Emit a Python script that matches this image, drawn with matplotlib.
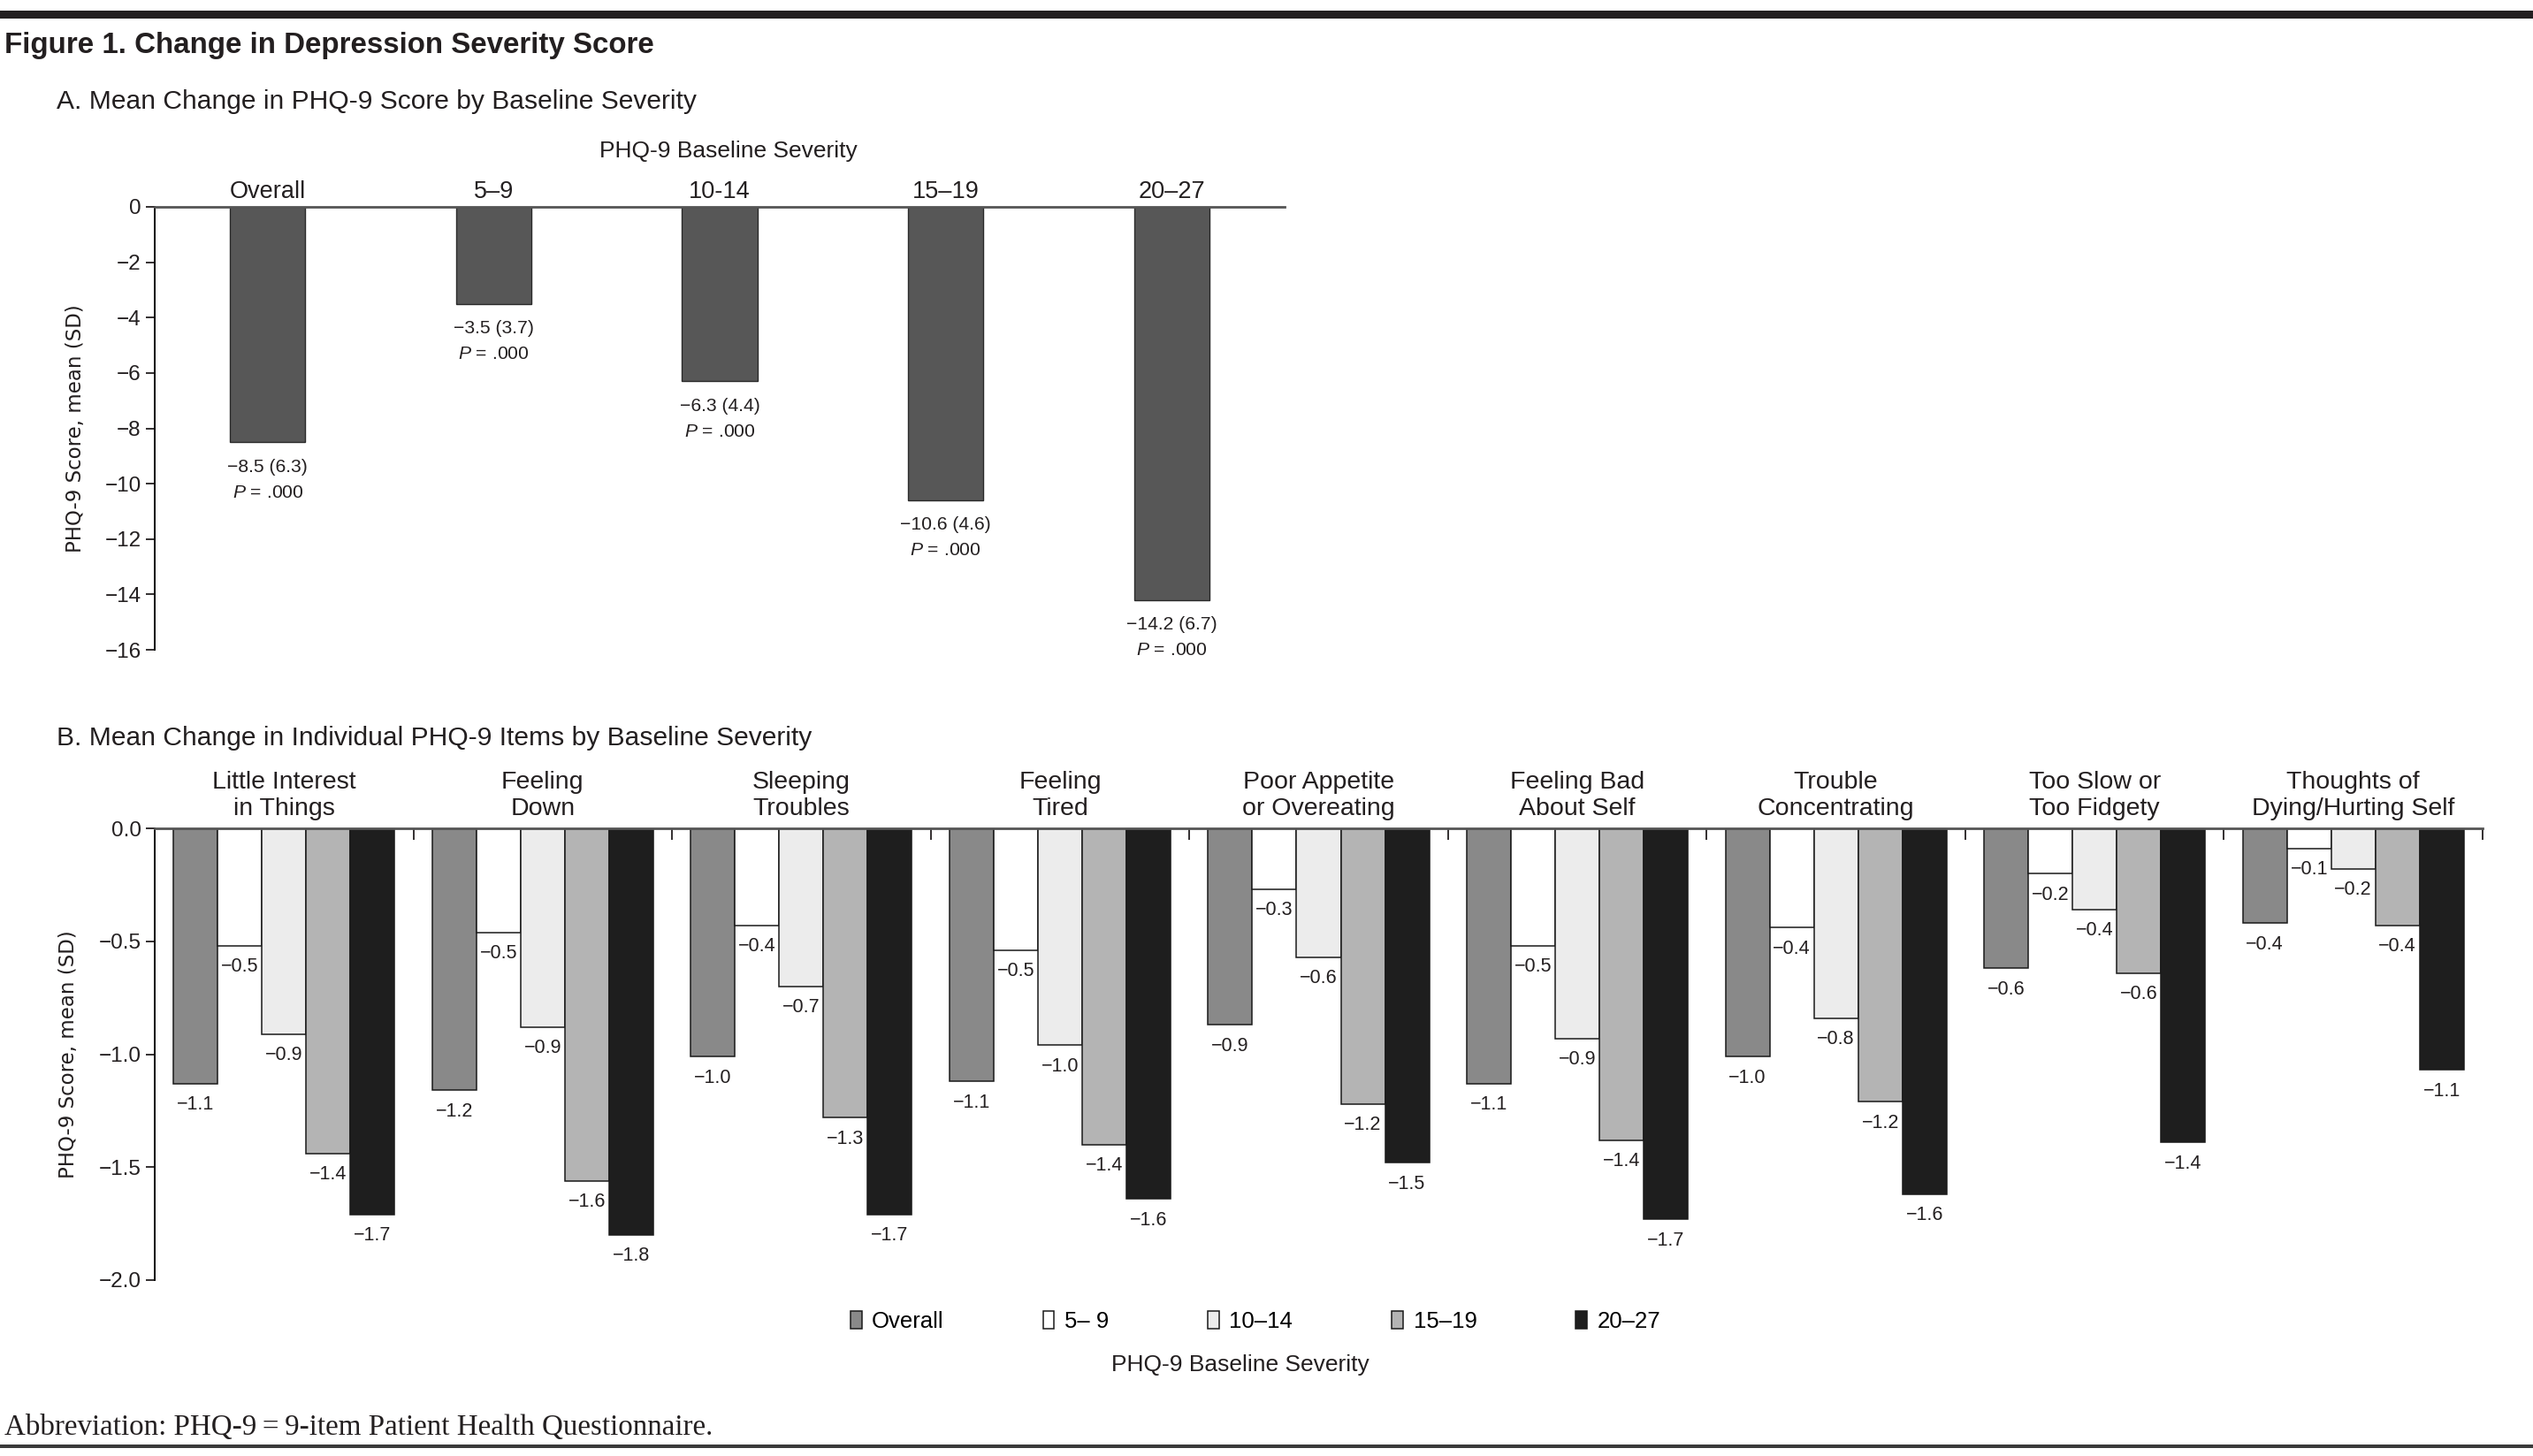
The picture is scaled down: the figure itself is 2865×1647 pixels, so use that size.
import matplotlib
matplotlib.use('Agg')
import matplotlib.pyplot as plt
from matplotlib.patches import Patch, Rectangle
from matplotlib.ticker import FuncFormatter
import numpy as np

W, H, DPI = 2865, 1647, 100

plt.rcParams['font.family'] = ['Liberation Sans', 'DejaVu Sans']
plt.rcParams['mathtext.fontset'] = 'custom'
plt.rcParams['mathtext.rm'] = 'Liberation Sans'
plt.rcParams['mathtext.it'] = 'Liberation Sans:italic'

# ---------------- Panel A data ----------------
a_categories = ['Overall', '5–9', '10-14', '15–19', '20–27']
a_means = [-8.5, -3.5, -6.3, -10.6, -14.2]
a_sds = [6.3, 3.7, 4.4, 4.6, 6.7]
a_pvalues = ['.000', '.000', '.000', '.000', '.000']
a_yticks = [-16, -14, -12, -10, -8, -6, -4, -2, 0]

# ---------------- Panel B data ----------------
b_items = ['Little Interest\nin Things', 'Feeling\nDown', 'Sleeping\nTroubles',
           'Feeling\nTired', 'Poor Appetite\nor Overeating', 'Feeling Bad\nAbout Self',
           'Trouble\nConcentrating', 'Too Slow or\nToo Fidgety', 'Thoughts of\nDying/Hurting Self']
b_series = ['Overall', '5– 9', '10–14', '15–19', '20–27']
b_overall = [-1.13, -1.16, -1.01, -1.12, -0.87, -1.13, -1.01, -0.62, -0.42]
b_5_9 = [-0.52, -0.46, -0.43, -0.54, -0.27, -0.52, -0.44, -0.20, -0.09]
b_10_14 = [-0.91, -0.88, -0.70, -0.96, -0.57, -0.93, -0.84, -0.36, -0.18]
b_15_19 = [-1.44, -1.56, -1.28, -1.40, -1.22, -1.38, -1.21, -0.64, -0.43]
b_20_27 = [-1.71, -1.80, -1.71, -1.64, -1.48, -1.73, -1.62, -1.39, -1.07]
b_yticks = [-2.0, -1.5, -1.0, -0.5, 0.0]
b_colors = ['#898989', '#ffffff', '#ececec', '#b4b4b4', '#1e1e1e']


def minus(s):
    return s.replace('-', '\u2212')


fig = plt.figure(figsize=(W / DPI, H / DPI), dpi=DPI)


def fx(px):
    return px / W


def fy(py):
    return 1 - py / H


# rules
fig.patches.append(Rectangle((0, fy(21)), 1, fy(12) - fy(21), transform=fig.transFigure,
                             color='#231f20', lw=0))
fig.patches.append(Rectangle((0, fy(1638)), 1, fy(1634) - fy(1638), transform=fig.transFigure,
                             color='#3a3a3a', lw=0))

fig.text(fx(5), fy(60), 'Figure 1. Change in Depression Severity Score', fontsize=23.9,
         fontweight='bold', ha='left', va='baseline', color='#231f20')
fig.text(fx(64), fy(123), 'A. Mean Change in PHQ-9 Score by Baseline Severity', fontsize=21.6,
         ha='left', va='baseline', color='#231f20')
fig.text(fx(64), fy(843), 'B. Mean Change in Individual PHQ-9 Items by Baseline Severity',
         fontsize=21.6, ha='left', va='baseline', color='#231f20')

# ---------------- Panel A ----------------
axA = fig.add_axes([fx(175), fy(735), fx(1453) - fx(175), fy(234) - fy(735)])
xa = np.arange(len(a_categories))
axA.bar(xa, a_means, width=0.333, color='#575757', edgecolor='#2a2a2a', linewidth=1.0, zorder=2)
axA.set_xlim(-0.5, 4.5)
axA.set_ylim(-16, 0)
axA.spines['right'].set_visible(False)
axA.spines['bottom'].set_visible(False)
axA.spines['top'].set_color('#555555')
axA.spines['top'].set_linewidth(2.0)
axA.spines['left'].set_linewidth(1.4)
axA.set_yticks(a_yticks)
axA.yaxis.set_major_formatter(FuncFormatter(lambda v, p: minus(f"{v:.0f}")))
axA.tick_params(axis='y', direction='out', length=7, width=1.3, labelsize=17.5, pad=4,
                colors='#231f20')
axA.xaxis.tick_top()
axA.set_xticks(xa)
axA.set_xticklabels(a_categories)
axA.tick_params(axis='x', length=0, labelsize=19.5, pad=3, colors='#231f20')
axA.set_ylabel('PHQ-9 Score, mean (SD)', fontfamily='DejaVu Sans', fontsize=16.5,
               va='center', color='#231f20')
axA.yaxis.set_label_coords(-0.0704, 0.5)
for x, m, sd, p in zip(xa, a_means, a_sds, a_pvalues):
    axA.annotate(minus(f"{m:.1f} ({sd:.1f})"), xy=(x, m), xytext=(0, -28),
                 textcoords='offset pixels', ha='center', va='center', fontsize=15.2,
                 color='#231f20')
    axA.annotate(f"$P$ = {p}", xy=(x, m), xytext=(0, -57),
                 textcoords='offset pixels', ha='center', va='center', fontsize=15.2,
                 color='#231f20')
fig.text(fx(824), fy(171), 'PHQ-9 Baseline Severity', fontsize=19, ha='center', va='center',
         color='#231f20')

# ---------------- Panel B ----------------
axB = fig.add_axes([fx(175), fy(1448), fx(2808) - fx(175), fy(937) - fy(1448)])
series_vals = [b_overall, b_5_9, b_10_14, b_15_19, b_20_27]
bw = 0.171
gx = np.arange(len(b_items)) + 0.5
for i, (vals, col, name) in enumerate(zip(series_vals, b_colors, b_series)):
    xs = gx + (i - 2) * bw
    axB.bar(xs, vals, width=bw, color=col, edgecolor='#1a1a1a', linewidth=1.1, zorder=2,
            label=name)
    for x, v in zip(xs, vals):
        axB.annotate(minus(f"{v:.1f}"), xy=(x, v), xytext=(0, -24), textcoords='offset pixels',
                     ha='center', va='center', fontsize=15.5, color='#231f20')
for x, item in zip(gx, b_items):
    axB.annotate(item, xy=(x, 0), xytext=(0, 37), textcoords='offset pixels', ha='center',
                 va='center', fontsize=20.5, linespacing=1.25, color='#231f20')
axB.set_xlim(0, 9)
axB.set_ylim(-2.0, 0)
axB.spines['right'].set_visible(False)
axB.spines['bottom'].set_visible(False)
axB.spines['top'].set_color('#555555')
axB.spines['top'].set_linewidth(2.0)
axB.spines['left'].set_linewidth(1.4)
axB.set_yticks(b_yticks)
axB.yaxis.set_major_formatter(FuncFormatter(lambda v, p: minus(f"{v:.1f}")))
axB.tick_params(axis='y', direction='out', length=7, width=1.3, labelsize=17.5, pad=4,
                colors='#231f20')
axB.xaxis.tick_top()
axB.set_xticks(np.arange(1, 10))
axB.set_xticklabels([])
axB.tick_params(axis='x', direction='in', length=9, width=1.3, colors='#231f20')
axB.set_ylabel('PHQ-9 Score, mean (SD)', fontfamily='DejaVu Sans', fontsize=16.5,
               va='center', color='#231f20')
axB.yaxis.set_label_coords(-0.0372, 0.5)

handles = [Patch(facecolor=c, edgecolor='#1a1a1a', linewidth=1.1) for c in b_colors]
fig.legend(handles, b_series, loc='center', bbox_to_anchor=(fx(1420), fy(1495)), ncol=5,
           frameon=False, fontsize=18.5, handlelength=0.5, handleheight=0.8,
           handletextpad=0.45, columnspacing=4.35)
fig.text(fx(1403), fy(1544), 'PHQ-9 Baseline Severity', fontsize=19, ha='center', va='center',
         color='#231f20')

fig.text(fx(5), fy(1623), 'Abbreviation: PHQ-9\u2009=\u20099-item Patient Health Questionnaire.',
         fontsize=23.8, family=['Liberation Serif', 'DejaVu Serif'], ha='left', va='baseline',
         color='#231f20')

fig.savefig('out.png', dpi=DPI)
